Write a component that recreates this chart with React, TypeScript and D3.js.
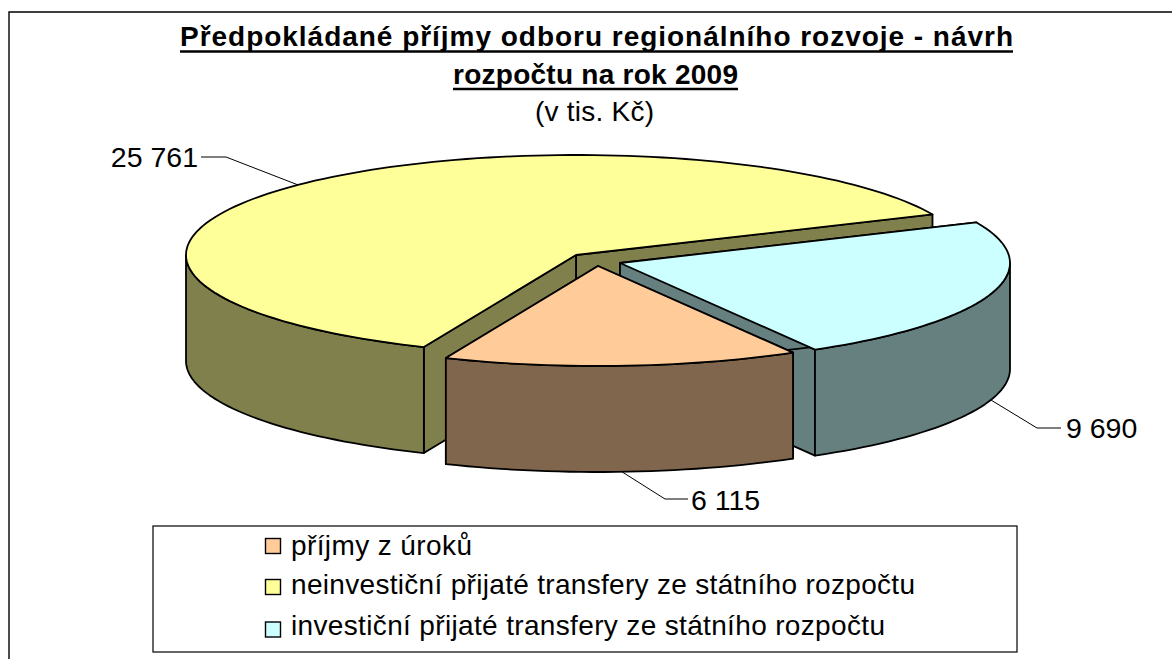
import React from "react";
import * as d3 from "d3";

const TITLE_LINES = ["Předpokládané příjmy odboru regionálního rozvoje - návrh", "rozpočtu na rok 2009"];
const SUBTITLE = "(v tis. Kč)";
const CATEGORIES = ["příjmy z úroků", "neinvestiční přijaté transfery ze státního rozpočtu", "investiční přijaté transfery ze státního rozpočtu"];
const VALUES = [6115, 25761, 9690];
const VALUE_LABELS = ["6 115", "25 761", "9 690"];
const TOP_COLORS = ["#FFCC99", "#FFFF99", "#CCFFFF"];
const SIDE_COLORS = ["#80664C", "#80804C", "#668080"];

const width = 1172;
const height = 659;
const cx = 576;
const cy = 255;
const rx = 390;
const ry = 100;
const depth = 106;
const font = "'Liberation Sans', Arial, sans-serif";

// how far each slice is pulled out of the centre
const explode = [[22, 11], [0, 0], [44, 8]];
const leaders = [
  { elbow: [665, 499], end: [688, 499], text: [691, 510], anchor: "start" },
  { elbow: [226, 157], end: [201, 157], text: [198, 167], anchor: "end" },
  { elbow: [1037, 428], end: [1061, 428], text: [1066, 438], anchor: "start" },
];
// text widths in the reference run wider than the font's own
const titleRows = [
  { x: 180, y: 46, w: 833, rule: 51.5 },
  { x: 453, y: 84, w: 285, rule: 89 },
];
const legendWidths = [181, 624, 594];
const legendBaselines = [555, 594, 635];
const legendSwatches = [538.5, 579.5, 622];

const pie = d3.pie<number>().sort(null).startAngle((150 * Math.PI) / 180).endAngle((510 * Math.PI) / 180);
const arcs = pie(VALUES);
const line = d3.line();

function rim(a: number, dx: number, dy: number, z = 0): [number, number] {
  return [cx + dx + rx * Math.sin(a), cy + dy - ry * Math.cos(a) + z];
}

function sample(a0: number, a1: number, dx: number, dy: number, z = 0) {
  const n = Math.max(2, Math.ceil(Math.abs(a1 - a0) / 0.03));
  return d3.range(n + 1).map((i) => rim(a0 + ((a1 - a0) * i) / n, dx, dy, z));
}

// only the part of the rim that faces the viewer gets a wall
function wallRanges(a0: number, a1: number) {
  const out: [number, number][] = [];
  for (let k = -1; k <= 2; k++) {
    const lo = Math.max(a0, Math.PI / 2 + k * 2 * Math.PI);
    const hi = Math.min(a1, (3 * Math.PI) / 2 + k * 2 * Math.PI);
    if (hi > lo) out.push([lo, hi]);
  }
  return out;
}

const stroke = { stroke: "#000", strokeWidth: 1.8, strokeLinejoin: "round" as const };

function Slice({ i }: { i: number }) {
  const d = arcs[i];
  const [dx, dy] = explode[i];
  const apex: [number, number] = [cx + dx, cy + dy];
  const apexLow: [number, number] = [apex[0], apex[1] + depth];
  const p0 = rim(d.startAngle, dx, dy);
  const p1 = rim(d.endAngle, dx, dy);
  const cut = (p: [number, number]) => line([apex, p, [p[0], p[1] + depth], apexLow]) + "Z";
  return (
    <g>
      <path d={cut(p1)} fill={SIDE_COLORS[i]} {...stroke} />
      <path d={cut(p0)} fill={SIDE_COLORS[i]} {...stroke} />
      {wallRanges(d.startAngle, d.endAngle).map(([a, b], k) => (
        <path
          key={k}
          d={line([...sample(a, b, dx, dy), ...sample(b, a, dx, dy, depth)]) + "Z"}
          fill={SIDE_COLORS[i]}
          {...stroke}
        />
      ))}
      <path d={line([apex, ...sample(d.startAngle, d.endAngle, dx, dy)]) + "Z"} fill={TOP_COLORS[i]} {...stroke} />
    </g>
  );
}

function Leader({ i }: { i: number }) {
  const d = arcs[i];
  const [dx, dy] = explode[i];
  const mid = (d.startAngle + d.endAngle) / 2;
  const front = Math.cos(mid) < 0;
  const start = rim(mid, dx, dy, front ? depth : 0);
  const l = leaders[i];
  return (
    <g>
      <path d={line([start, l.elbow as [number, number], l.end as [number, number]]) as string} fill="none" stroke="#000" strokeWidth={1} />
      <text x={l.text[0]} y={l.text[1]} textAnchor={l.anchor as "start" | "end"} fontSize={28.5} fontFamily={font} fill="#000">
        {VALUE_LABELS[i]}
      </text>
    </g>
  );
}

export default function App() {
  return (
    <svg width={width} height={height} viewBox={`0 0 ${width} ${height}`} style={{ position: "absolute", left: 0, top: 0, display: "block", background: "#fff" }}>
      <path d="M9,659V12H1172" fill="none" stroke="#000" strokeWidth={1.4} />
      {TITLE_LINES.map((t, i) => {
        const r = titleRows[i];
        return (
          <g key={t}>
            <text x={r.x} y={r.y} fontFamily={font} fontSize={28} fontWeight={700} textLength={r.w} lengthAdjust="spacing">
              {t}
            </text>
            <line x1={r.x} x2={r.x + r.w} y1={r.rule} y2={r.rule} stroke="#000" strokeWidth={2.6} />
          </g>
        );
      })}
      <text x={535} y={121} fontFamily={font} fontSize={28} textLength={119} lengthAdjust="spacing">
        {SUBTITLE}
      </text>
      {/* back to front */}
      {[1, 2, 0].map((i) => (
        <Slice key={i} i={i} />
      ))}
      {[0, 1, 2].map((i) => (
        <Leader key={i} i={i} />
      ))}
      <rect x={153} y={526} width={864} height={126} fill="#fff" stroke="#000" strokeWidth={1.2} />
      {CATEGORIES.map((c, i) => (
        <g key={c}>
          <rect x={265.5} y={legendSwatches[i]} width={15} height={15} fill={TOP_COLORS[i]} stroke="#000" strokeWidth={1.4} />
          <text x={291} y={legendBaselines[i]} fontFamily={font} fontSize={28} fill="#000" textLength={legendWidths[i]} lengthAdjust="spacing">
            {c}
          </text>
        </g>
      ))}
    </svg>
  );
}
